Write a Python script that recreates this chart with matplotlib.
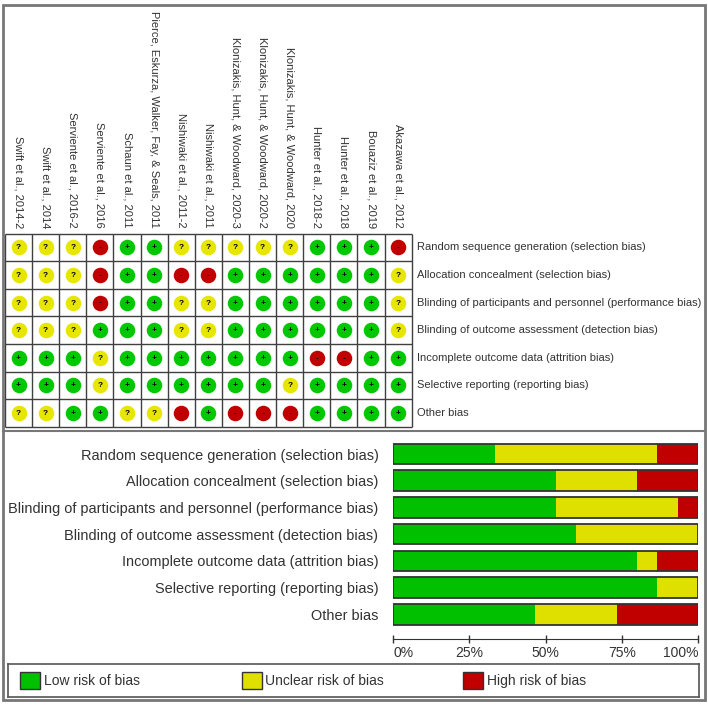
import matplotlib
matplotlib.use('Agg')
import matplotlib.pyplot as plt
from matplotlib.patches import Patch, Rectangle
from matplotlib.lines import Line2D

plt.rcParams['font.family'] = ['Liberation Sans', 'DejaVu Sans']

studies = ['Swift et al., 2014-2', 'Swift et al., 2014', 'Serviente et al., 2016-2',
           'Serviente et al., 2016', 'Schaun et al., 2011',
           'Pierce, Eskurza, Walker, Fay, & Seals, 2011', 'Nishiwaki et al., 2011-2',
           'Nishiwaki et al., 2011', 'Klonizakis, Hunt, & Woodward, 2020-3',
           'Klonizakis, Hunt, & Woodward, 2020-2', 'Klonizakis, Hunt, & Woodward, 2020',
           'Hunter et al., 2018-2', 'Hunter et al., 2018', 'Bouaziz et al., 2019',
           'Akazawa et al., 2012']

domains = ['Random sequence generation (selection bias)',
           'Allocation concealment (selection bias)',
           'Blinding of participants and personnel (performance bias)',
           'Blinding of outcome assessment (detection bias)',
           'Incomplete outcome data (attrition bias)',
           'Selective reporting (reporting bias)',
           'Other bias']

# one string per domain, one letter per study: L = low, U = unclear, H = high
judgements = ['UUUHLLUUUUULLLH',
              'UUUHLLHHLLLLLLU',
              'UUUHLLUULLLLLLU',
              'UUULLLUULLLLLLU',
              'LLLULLLLLLLHHLL',
              'LLLULLLLLLULLLL',
              'UULLUUHLHHHLLLL']

levels = ['L', 'U', 'H']
level_names = ['Low risk of bias', 'Unclear risk of bias', 'High risk of bias']
bar_colors = {'L': '#00c000', 'U': '#e0e000', 'H': '#c00000'}
dot_colors = {'L': '#00c800', 'U': '#e6e600', 'H': '#c00000'}
symbols = {'L': '+', 'U': '?', 'H': '-'}

W, H = 708, 705
fig = plt.figure(figsize=(W / 100, H / 100), dpi=100)
txt = '#333333'
line_c = '#404040'

# ---- summary grid ----
ax1 = fig.add_axes([5 / W, (H - 426.7) / H, 406.7 / W, 193.2 / H])
nrow, ncol = len(domains), len(studies)
ax1.set_xlim(0, ncol)
ax1.set_ylim(nrow, 0)
ax1.axis('off')
ax1.vlines(range(ncol + 1), 0, nrow, color=line_c, lw=1, clip_on=False)
ax1.hlines(range(nrow + 1), 0, ncol, color=line_c, lw=1, clip_on=False)
for j, row in enumerate(judgements):
    for i, lv in enumerate(row):
        ax1.scatter(i + 0.5, j + 0.5, s=125, color=dot_colors[lv], lw=0, zorder=3)
        ax1.text(i + 0.5, j + 0.52, symbols[lv], ha='center', va='center',
                 fontsize=6, fontweight='bold', color='black', zorder=4)
for i, name in enumerate(studies):
    ax1.text(i + 0.5, -0.2, name, rotation=270, ha='center', va='bottom',
             fontsize=8, color=txt, clip_on=False)
for j, d in enumerate(domains):
    ax1.text(ncol + 0.2, j + 0.5, d, ha='left', va='center', fontsize=8,
             color=txt, clip_on=False)

# ---- stacked percentage bars ----
ax2 = fig.add_axes([393 / W, (H - 627.6) / H, 305 / W, 186.9 / H])
ypos = list(range(nrow))
left = [0] * nrow
for lv in levels:
    pct = [100 * row.count(lv) / len(row) for row in judgements]
    ax2.barh(ypos, pct, left=left, height=0.768, color=bar_colors[lv], lw=0)
    left = [a + b for a, b in zip(left, pct)]
ax2.barh(ypos, left, height=0.768, fill=False, edgecolor='#333333', lw=1.3)
ax2.set_xlim(0, 100)
ax2.set_ylim(nrow - 0.5, -0.5)
for s in ['top', 'right', 'left']:
    ax2.spines[s].set_visible(False)
ax2.spines['bottom'].set_position(('outward', 8.2))
ax2.spines['bottom'].set_color('#333333')
ax2.set_xticks([0, 25, 50, 75, 100])
ax2.set_xticklabels(['0%', '25%', '50%', '75%', '100%'])
ax2.tick_params(axis='x', direction='inout', length=6, width=1, colors='#333333',
                labelsize=10, pad=2)
tl = ax2.get_xticklabels()
tl[0].set_ha('left')
tl[-1].set_ha('right')
ax2.set_yticks(ypos)
ax2.set_yticklabels(domains, fontsize=10.45, color=txt)
ax2.tick_params(axis='y', length=0, pad=10.5)

# ---- legend box ----
ax3 = fig.add_axes([8 / W, (H - 697) / H, 691 / W, 33 / H])
ax3.set_xticks([])
ax3.set_yticks([])
for s in ax3.spines.values():
    s.set_color('#555555')
    s.set_linewidth(1.2)
legs = []
for k, lv in enumerate(levels):
    leg = ax3.legend(handles=[Patch(facecolor=bar_colors[lv], edgecolor='#333333',
                                    lw=1, label=level_names[k])],
                     loc='center left', bbox_to_anchor=(0.0174 + k * 0.3206, 0.5),
                     frameon=False, fontsize=10, handlelength=1.45, handleheight=1.4,
                     handletextpad=0.25, borderpad=0, borderaxespad=0)
    for t in leg.get_texts():
        t.set_color(txt)
    legs.append(leg)
for leg in legs[:-1]:
    ax3.add_artist(leg)

# outer border and panel separator
fig.add_artist(Rectangle((3 / W, 5 / H), 702 / W, 695 / H, transform=fig.transFigure,
                         fill=False, ec='#777777', lw=2))
fig.add_artist(Line2D([3 / W, 705 / W], [(H - 431) / H] * 2, transform=fig.transFigure,
                      color='#777777', lw=1.5))

fig.savefig('out.png', dpi=100)
